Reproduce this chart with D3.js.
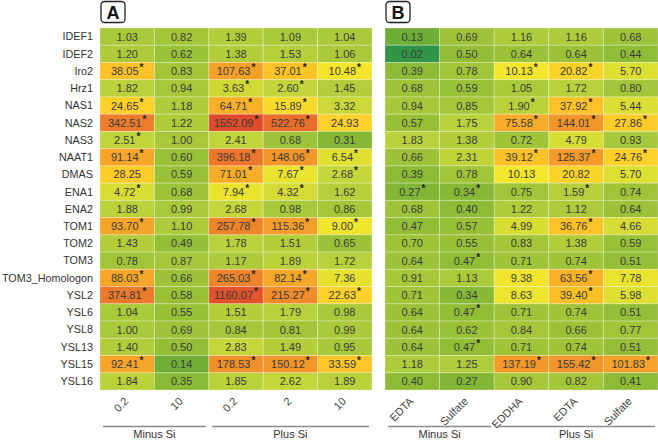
<!DOCTYPE html>
<html>
<head>
<meta charset="utf-8">
<script src="https://cdn.jsdelivr.net/npm/d3@7"></script>
<style>
body{margin:0;background:#fff;}
svg{display:block;}
text{font-family:"Liberation Sans",Arial,sans-serif;}
</style>
</head>
<body>
<svg id="chart" width="658" height="440"></svg>
<script>
const genes = ["IDEF1","IDEF2","Iro2","Hrz1","NAS1","NAS2","NAS3","NAAT1","DMAS","ENA1","ENA2","TOM1","TOM2","TOM3","TOM3_Homologon","YSL2","YSL6","YSL8","YSL13","YSL15","YSL16"];

// Panel A
const colsA = ["0.2","10","0.2","2","10"];
const groupsA = [{label:"Minus Si", from:0, to:1},{label:"Plus Si", from:2, to:4}];
const valuesA = [
 [1.03,0.82,1.39,1.09,1.04],
 [1.20,0.62,1.38,1.53,1.06],
 [38.05,0.83,107.63,37.01,10.48],
 [1.82,0.94,3.63,2.60,1.45],
 [24.65,1.18,64.71,15.89,3.32],
 [342.51,1.22,1552.09,522.76,24.93],
 [2.51,1.00,2.41,0.68,0.31],
 [91.14,0.60,396.18,148.06,6.54],
 [28.25,0.59,71.01,7.67,2.68],
 [4.72,0.68,7.94,4.32,1.62],
 [1.88,0.99,2.68,0.98,0.86],
 [93.70,1.10,257.78,115.36,9.00],
 [1.43,0.49,1.78,1.51,0.65],
 [0.78,0.87,1.17,1.89,1.72],
 [88.03,0.66,265.03,82.14,7.36],
 [374.81,0.58,1160.07,215.27,22.63],
 [1.04,0.55,1.51,1.79,0.98],
 [1.00,0.69,0.84,0.81,0.99],
 [1.40,0.50,2.83,1.49,0.95],
 [92.41,0.14,178.53,150.12,33.59],
 [1.84,0.35,1.85,2.62,1.89]
];
const sigA = [
 [0,0,0,0,0],[0,0,0,0,0],[1,0,1,1,1],[0,0,1,1,0],[1,0,1,1,0],[1,0,1,1,0],[1,0,0,0,0],
 [1,0,1,1,1],[0,0,1,1,1],[1,0,1,1,0],[0,0,0,0,0],[1,0,1,1,1],[0,0,0,0,0],[0,0,0,0,0],
 [1,0,1,1,0],[1,0,1,1,1],[0,0,0,0,0],[0,0,0,0,0],[0,0,0,0,0],[1,0,1,1,1],[0,0,0,0,0]
];

// Panel B
const colsB = ["EDTA","Sulfate","EDDHA","EDTA","Sulfate"];
const groupsB = [{label:"Minus Si", from:0, to:1},{label:"Plus Si", from:2, to:4}];
const valuesB = [
 [0.13,0.69,1.16,1.16,0.68],
 [0.02,0.50,0.64,0.64,0.44],
 [0.39,0.78,10.13,20.82,5.70],
 [0.68,0.59,1.05,1.72,0.80],
 [0.94,0.85,1.90,37.92,5.44],
 [0.57,1.75,75.58,144.01,27.86],
 [1.83,1.38,0.72,4.79,0.93],
 [0.66,2.31,39.12,125.37,24.76],
 [0.39,0.78,10.13,20.82,5.70],
 [0.27,0.34,0.75,1.59,0.74],
 [0.68,0.40,1.22,1.12,0.64],
 [0.47,0.57,4.99,36.76,4.66],
 [0.70,0.55,0.83,1.38,0.59],
 [0.64,0.47,0.71,0.74,0.51],
 [0.91,1.13,9.38,63.56,7.78],
 [0.71,0.34,8.63,39.40,5.98],
 [0.64,0.47,0.71,0.74,0.51],
 [0.64,0.62,0.84,0.66,0.77],
 [0.64,0.47,0.71,0.74,0.51],
 [1.18,1.25,137.19,155.42,101.83],
 [0.40,0.27,0.90,0.82,0.41]
];
const sigB = [
 [0,0,0,0,0],[0,0,0,0,0],[0,0,1,1,0],[0,0,0,0,0],[0,0,1,1,0],[0,0,1,1,1],[0,0,0,0,0],
 [0,0,1,1,1],[0,0,0,0,0],[1,1,0,1,0],[0,0,0,0,0],[0,0,0,1,0],[0,0,0,0,0],[0,1,0,0,0],
 [0,0,0,1,0],[0,0,0,1,0],[0,1,0,0,0],[0,0,0,0,0],[0,1,0,0,0],[0,0,1,1,1],[0,0,0,0,0]
];

// colour scale on log10 of fold change
const colorStops = [-1.7,-0.9,-0.4,0,0.4,0.8,1.0,1.4,1.6,2.0,2.3,2.6,3.0,3.2];
const colorRange = ["#2f9646","#6cae37","#8dbb35","#a9c93a","#c2d53a","#e0e030","#f3e62b","#fdd02a","#fcc027","#f6a229","#f08e2b","#ec772c","#e3562b","#df4a2b"];
const color = d3.scaleLinear().domain(colorStops).range(colorRange).clamp(true);

const svg = d3.select("#chart");
const gridTop = 28, gridBottom = 390;
const y = d3.scaleBand().domain(genes).range([gridTop, gridBottom]).padding(0);

// Row labels
svg.append("g").selectAll("text").data(genes).join("text")
  .attr("x", 93).attr("y", d => y(d) + y.bandwidth()/2)
  .attr("dy","0.35em").attr("text-anchor","end")
  .attr("font-size", 10.8).attr("fill","#333")
  .text(d => d);

function panel(x0, x1, cols, groups, values, sig, letter) {
  const idx = d3.range(cols.length);
  const x = d3.scaleBand().domain(idx).range([x0, x1]).padding(0);
  const g = svg.append("g");
  const cells = [];
  genes.forEach((gname, r) => idx.forEach(c => cells.push({gname, c, v: values[r][c], s: sig[r][c]})));
  g.selectAll("rect.cell").data(cells).join("rect").attr("class","cell")
    .attr("x", d => x(d.c)).attr("y", d => y(d.gname))
    .attr("width", x.bandwidth()).attr("height", y.bandwidth())
    .attr("fill", d => color(Math.log10(d.v)))
    .attr("stroke","rgba(255,255,255,0.28)").attr("stroke-width",1);
  const t = g.selectAll("text.val").data(cells).join("text").attr("class","val")
    .attr("x", d => x(d.c) + x.bandwidth()/2)
    .attr("y", d => y(d.gname) + y.bandwidth()/2)
    .attr("dy","0.36em").attr("text-anchor","middle")
    .attr("font-size", 11).attr("fill","#3a3a3a");
  t.append("tspan").text(d => d.v.toFixed(2));
  t.filter(d => d.s).append("tspan").attr("dy", -4).attr("dx", 1).attr("font-size", 10).attr("font-weight","bold").attr("fill","#222").text("*");

  // x tick labels
  g.selectAll("text.tick").data(idx).join("text").attr("class","tick")
    .attr("transform", c => `translate(${x(c) + x.bandwidth()/2 + 2},${gridBottom + 12}) rotate(-45)`)
    .attr("text-anchor","end").attr("font-size", 11).attr("fill","#444")
    .text(c => cols[c]);

  // group lines and labels
  groups.forEach(gr => {
    const gx0 = x(gr.from) + 3, gx1 = x(gr.to) + x.bandwidth() - 3;
    g.append("line").attr("x1", gx0).attr("x2", gx1).attr("y1", 426.5).attr("y2", 426.5)
      .attr("stroke","#8a8a8a").attr("stroke-width",1.5);
    g.append("text").attr("x",(gx0+gx1)/2).attr("y",437.5).attr("text-anchor","middle")
      .attr("font-size",11).attr("fill","#333").text(gr.label);
  });

  // panel letter
  g.append("rect").attr("x", x0 + 1).attr("y", 1.5).attr("width", 24).attr("height", 21)
    .attr("rx", 3.5).attr("fill","#fff").attr("stroke","#222").attr("stroke-width",1.3);
  g.append("text").attr("x", x0 + 13).attr("y", 18.5).attr("text-anchor","middle")
    .attr("font-size", 18).attr("font-weight","bold").attr("fill","#111").text(letter);
}

panel(100, 372, colsA, groupsA, valuesA, sigA, "A");
panel(385, 658, colsB, groupsB, valuesB, sigB, "B");
</script>
</body>
</html>
